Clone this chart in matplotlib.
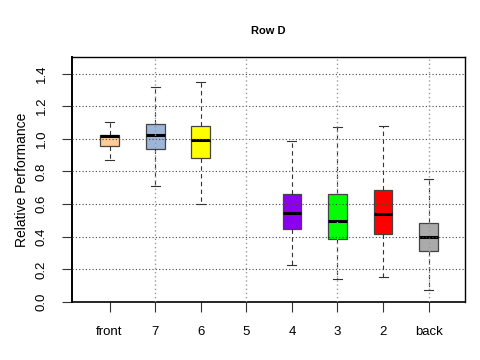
import matplotlib
matplotlib.use('Agg')
from matplotlib import pyplot as plt

plt.rcParams['font.family'] = ['Liberation Sans', 'DejaVu Sans']

# box summary values
labels = ['front', '7', '6', '5', '4', '3', '2', 'back']
whislo = [0.873, 0.708, 0.599, None, 0.228, 0.141, 0.151, 0.073]
q1 = [0.958, 0.936, 0.885, None, 0.448, 0.387, 0.418, 0.312]
med = [1.017, 1.021, 0.995, None, 0.546, 0.497, 0.542, 0.398]
q3 = [1.021, 1.093, 1.078, None, 0.665, 0.661, 0.685, 0.487]
whishi = [1.105, 1.319, 1.347, None, 0.987, 1.072, 1.076, 0.754]
colors = ['#FFCC99', '#9DB5D8', '#FFFF00', '#FFFFFF',
          '#8B00F0', '#00FF00', '#FF0000', '#AAAAAA']

fig = plt.figure(figsize=(4.8, 3.6), dpi=100)
ax = fig.add_axes([0.149, 0.161, 0.82, 0.68])

stats, pos, fills = [], [], []
for i in range(len(labels)):
    if med[i] is None:
        continue
    stats.append(dict(whislo=whislo[i], q1=q1[i], med=med[i], q3=q3[i],
                      whishi=whishi[i], fliers=[]))
    pos.append(i + 1)
    fills.append(colors[i])

bp = ax.bxp(stats, positions=pos, widths=0.41, patch_artist=True,
            showfliers=False,
            boxprops=dict(edgecolor='#444444', linewidth=0.9),
            medianprops=dict(color='black', linewidth=2.2),
            whiskerprops=dict(color='#333333', linestyle=(0, (4, 3)), linewidth=0.8),
            capprops=dict(color='#333333', linewidth=0.8),
            capwidths=0.2)
for patch, c in zip(bp['boxes'], fills):
    patch.set_facecolor(c)
    patch.set_zorder(2)

# gridlines over the boxes, like the original
for y in [0.2, 0.4, 0.6, 0.8, 1.0, 1.2, 1.4]:
    ax.axhline(y, color='#444444', linestyle=(0, (1, 2)), linewidth=0.8, zorder=3)
for x in [2, 4, 6, 8]:
    ax.axvline(x, color='#999999', linestyle=(0, (1, 2)), linewidth=1.0, zorder=3)

ax.set_xlim(0.165, 8.8)
ax.set_ylim(0, 1.5)
ax.set_xticks(range(1, 9))
ax.set_xticklabels(labels, fontsize=9.5)
ax.set_yticks([0.0, 0.2, 0.4, 0.6, 0.8, 1.0, 1.2, 1.4])
ax.set_yticklabels(['0.0', '0.2', '0.4', '0.6', '0.8', '1.0', '1.2', '1.4'],
                   rotation=90, va='center', fontsize=9.5)
ax.tick_params(axis='both', length=7, width=0.8, color='#333333')
ax.tick_params(axis='x', pad=10)
ax.tick_params(axis='y', pad=10)
for s in ax.spines.values():
    s.set_linewidth(1.0)
ax.spines['left'].set_linewidth(1.4)
ax.spines['bottom'].set_linewidth(1.2)

ax.set_ylabel('Relative Performance', fontsize=10, labelpad=5)
fig.text(0.558, 0.915, 'Row D', ha='center', va='center',
         fontsize=8, fontweight='bold')

fig.savefig('out.png', dpi=100)
